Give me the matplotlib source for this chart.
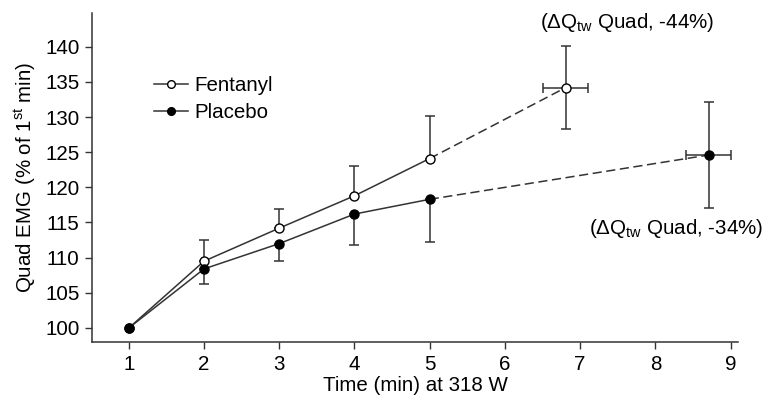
import numpy as np
import matplotlib.pyplot as plt

plt.rcParams['font.family'] = ['Liberation Sans', 'DejaVu Sans']
plt.rcParams['mathtext.fontset'] = 'custom'
plt.rcParams['mathtext.rm'] = 'Liberation Sans'
plt.rcParams['mathtext.it'] = 'Liberation Sans'

# données
temps = [1, 2, 3, 4, 5]
fentanyl = [100, 109.5, 114.2, 118.8, 124.1]
fentanyl_haut = [0, 3.0, 2.7, 4.3, 6.0]
placebo = [100, 108.4, 112.0, 116.2, 118.3]
placebo_bas = [0, 2.1, 2.5, 4.4, 6.1]

# point d'épuisement (moyenne +/- erreur en x et en y)
fin_fent_t, fin_fent = 6.81, 134.2
fin_fent_xerr, fin_fent_yerr = 0.30, 5.9
fin_plac_t, fin_plac = 8.71, 124.6
fin_plac_xerr, fin_plac_yerr = 0.30, 7.5

gris = '#333333'
fs = 14.8

fig = plt.figure(figsize=(7.68, 4.0), dpi=100)
ax = fig.add_axes([0.1198, 0.145, 0.8412, 0.8225])

# lignes pleines
ax.plot(temps, fentanyl, color=gris, lw=1.1, marker='o', ms=6.5,
        mfc='white', mec='black', mew=1.0, label='Fentanyl', zorder=3)
ax.plot(temps, placebo, color=gris, lw=1.1, marker='o', ms=6.5,
        mfc='black', mec='black', label='Placebo', zorder=3)

# barres d'erreur unilatérales
ax.errorbar(temps[1:], fentanyl[1:], yerr=[np.zeros(4), fentanyl_haut[1:]],
            fmt='none', ecolor=gris, elinewidth=1.1, capsize=3.5, capthick=1.1)
ax.errorbar(temps[1:], placebo[1:], yerr=[placebo_bas[1:], np.zeros(4)],
            fmt='none', ecolor=gris, elinewidth=1.1, capsize=3.5, capthick=1.1)

# lignes pointillées vers l'épuisement
ax.plot([temps[-1], fin_fent_t], [fentanyl[-1], fin_fent], color=gris,
        lw=1.1, ls=(0, (6, 3)), zorder=2)
ax.plot([temps[-1], fin_plac_t], [placebo[-1], fin_plac], color=gris,
        lw=1.1, ls=(0, (6, 3)), zorder=2)

ax.errorbar([fin_fent_t], [fin_fent], xerr=fin_fent_xerr, yerr=fin_fent_yerr,
            fmt='o', ms=6.5, mfc='white', mec='black', ecolor=gris,
            elinewidth=1.1, capsize=3.5, capthick=1.1, zorder=4)
ax.errorbar([fin_plac_t], [fin_plac], xerr=fin_plac_xerr, yerr=fin_plac_yerr,
            fmt='o', ms=6.5, mfc='black', mec='black', ecolor=gris,
            elinewidth=1.1, capsize=3.5, capthick=1.1, zorder=4)

ax.text(7.62, 143.5, r'($\Delta$Q$_{\rm tw}$ Quad, -44%)', fontsize=fs,
        ha='center', va='center')
ax.text(8.28, 114.2, r'($\Delta$Q$_{\rm tw}$ Quad, -34%)', fontsize=fs,
        ha='center', va='center')

ax.set_xlim(0.51, 9.1)
ax.set_ylim(98.0, 144.8)
ax.set_xticks(range(1, 10))
ax.set_yticks(range(100, 141, 5))
ax.tick_params(labelsize=fs, length=5, width=1, color=gris, pad=4)
ax.spines['top'].set_visible(False)
ax.spines['right'].set_visible(False)
for s in ['left', 'bottom']:
    ax.spines[s].set_color(gris)
    ax.spines[s].set_linewidth(1.1)

ax.set_xlabel('Time (min) at 318 W', fontsize=fs, labelpad=2)
ax.set_ylabel(r'Quad EMG (% of 1$^{\rm st}$ min)', fontsize=fs, labelpad=5)

ax.legend(loc='upper left', bbox_to_anchor=(0.068, 0.865), frameon=False,
          fontsize=fs, handlelength=1.65, handletextpad=0.3, labelspacing=0.4,
          markerscale=0.85)

plt.savefig('out.png', dpi=100)
